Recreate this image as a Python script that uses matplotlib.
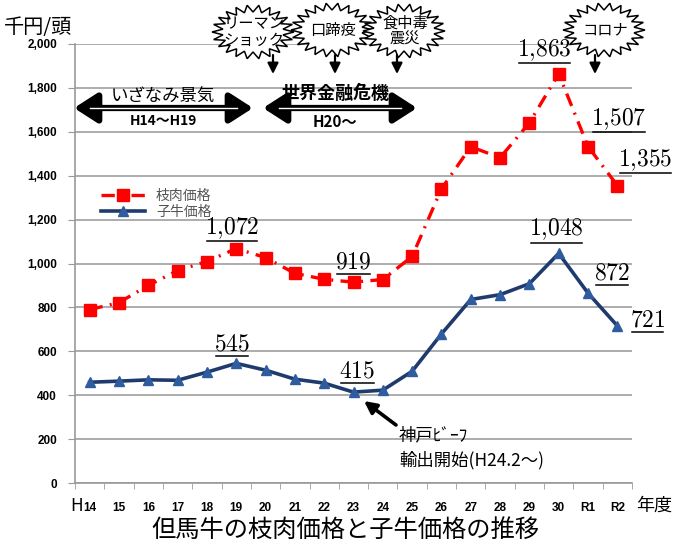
import numpy as np
import matplotlib
matplotlib.use('Agg')
import matplotlib.pyplot as plt
from matplotlib.patches import Polygon
from matplotlib.lines import Line2D
from matplotlib.transforms import IdentityTransform

plt.rcParams['font.family'] = ['Noto Sans CJK JP', 'DejaVu Sans']
plt.rcParams['mathtext.fontset'] = 'cm'

# ---- data ----
years = ['14', '15', '16', '17', '18', '19', '20', '21', '22', '23', '24',
         '25', '26', '27', '28', '29', '30', 'R1', 'R2']
carcass = [790, 822, 900, 968, 1009, 1068, 1027, 955, 928, 915, 927,
           1032, 1340, 1532, 1482, 1641, 1864, 1533, 1355]
calf = [459, 464, 470, 468, 505, 545, 514, 473, 455, 414, 423,
        509, 679, 836, 858, 908, 1046, 865, 716]
yticks = [0, 200, 400, 600, 800, 1000, 1200, 1400, 1600, 1800, 2000]
ytick_labels = ['0', '200', '400', '600', '800', '1,000', '1,200', '1,400',
                '1,600', '1,800', '2,000']
carcass_labels = {5: '1,072', 9: '919', 16: '1,863', 17: '1,507', 18: '1,355'}
calf_labels = {5: '545', 9: '415', 16: '1,048', 17: '872', 18: '721'}
series_names = ['枝肉価格', '子牛価格']

W, H = 676, 547
fig = plt.figure(figsize=(W / 100, H / 100), dpi=100)
ax = fig.add_axes([75 / W, 1 - 483 / H, (632 - 75) / W, (483 - 44) / H])

x = np.arange(len(years))
red = '#FF0000'
navy = '#1F3B6E'
ax.plot(x, carcass, color=red, lw=2.4, ls=(0, (4, 2.2, 0.6, 2.2)),
        marker='s', ms=8.5, mfc=red, mec=red, label=series_names[0], zorder=3)
ax.plot(x, calf, color=navy, lw=2.6, marker='^', ms=7.5, mfc='#2E5C9E',
        mec='#2E5C9E', label=series_names[1], zorder=3)

ax.set_xlim(-0.5, len(years) - 0.5)
ax.set_ylim(0, 2000)
ax.set_yticks(yticks)
ax.set_yticklabels(ytick_labels, fontfamily='Liberation Sans', fontweight='bold',
                   fontsize=8.5)
ax.set_xticks(x)
ax.set_xticklabels(years, fontfamily='Liberation Sans', fontweight='bold',
                   fontsize=8.5)
ax.set_xticks(np.arange(-0.5, len(years), 1), minor=True)
ax.tick_params(axis='x', which='major', length=0, pad=14)
ax.tick_params(axis='x', which='minor', length=4, color='#999999')
ax.tick_params(axis='y', length=5, color='#999999', pad=8)
ax.grid(axis='y', color='#A6A6A6', lw=1.3)
ax.set_axisbelow(True)
for s in ['top', 'right']:
    ax.spines[s].set_visible(False)
for s in ['left', 'bottom']:
    ax.spines[s].set_color('#999999')
    ax.spines[s].set_linewidth(1.2)

leg = ax.legend(loc='upper left', bbox_to_anchor=(88 / W, 1 - 176 / H),
                bbox_transform=fig.transFigure, frameon=False, fontsize=10,
                handlelength=3.2, labelspacing=0.15, handletextpad=0.8,
                labelcolor='#555555')

# value labels
def vlabels(vals, labs, offs):
    arts = []
    for i, t in labs.items():
        dx, dy = offs[i]
        a = ax.annotate('$' + t.replace(',', '{,}') + '$', xy=(x[i], vals[i]),
                        xytext=(dx, dy), textcoords='offset pixels',
                        ha='center', va='bottom', fontsize=17, zorder=5)
        arts.append(a)
    return arts

red_offs = {5: (-4, 8), 9: (0, 9), 16: (-14, 11), 17: (31, 15), 18: (28, 13)}
blue_offs = {5: (-4, 8), 9: (4, 10), 16: (-2, 11), 17: (24, 9), 18: (30, -6)}
labs = vlabels(carcass, carcass_labels, red_offs) + vlabels(calf, calf_labels, blue_offs)

# overlay in pixel coords
ov = fig.add_axes([0, 0, 1, 1], zorder=10)
ov.set_xlim(0, W)
ov.set_ylim(H, 0)
ov.axis('off')
ov.patch.set_alpha(0)

def star(cx, cy, rx, ry, n=22, inner=0.74, z=11):
    ang = np.linspace(0, 2 * np.pi, 2 * n, endpoint=False)
    r = np.where(np.arange(2 * n) % 2 == 0, 1.0, inner)
    pts = np.c_[cx + rx * r * np.cos(ang), cy + ry * r * np.sin(ang)]
    ov.add_patch(Polygon(pts, closed=True, fc='white', ec='black', lw=1.1, zorder=z))

bursts = [((253, 32), 'リーマン\nショック'), ((332, 30), '口蹄疫'),
          ((404, 31), '食中毒\n震災'), ((604, 30), 'コロナ')]
for k, ((cx, cy), t) in enumerate(bursts):
    star(cx, cy, 41, 27, z=11 + 2 * k)
    ov.text(cx + 1, cy, t, ha='center', va='center', fontsize=11,
            linespacing=0.95, zorder=12 + 2 * k)

for xa in [273, 335, 397, 595]:
    ov.annotate('', xy=(xa, 74), xytext=(xa, 55),
                arrowprops=dict(arrowstyle='-|>', color='black', lw=1.6,
                                mutation_scale=16, shrinkA=0, shrinkB=0), zorder=20)

def darrow(x0, x1, y):
    ov.annotate('', xy=(x0, y), xytext=(x1, y),
                arrowprops=dict(arrowstyle='<|-|>,head_length=0.7,head_width=0.45',
                                color='black', lw=4.5, mutation_scale=20,
                                shrinkA=0, shrinkB=0), zorder=20)
    ov.plot([x0 + 16, x1 - 16], [y, y], color='white', lw=1.0, zorder=21)

darrow(74, 253, 108)
darrow(263, 417, 108)
ov.text(163, 97, 'いざなみ景気', ha='center', va='center', fontsize=12.5, zorder=22)
ov.text(163, 121, 'H14〜H19', ha='center', va='center', fontsize=10,
        fontweight='bold', zorder=22)
ov.text(335, 93, '世界金融危機', ha='center', va='center', fontsize=13,
        fontweight='bold', zorder=22)
ov.text(335, 122, 'H20〜', ha='center', va='center', fontsize=11,
        fontweight='bold', zorder=22)

ov.text(4, 27, '千円/頭', ha='left', va='center', fontsize=14.5)
ov.text(77, 506, 'H', ha='center', va='center', fontsize=12.5)
ov.text(636, 506, '年度', ha='left', va='center', fontsize=13)
ov.text(345, 530, '但馬牛の枝肉価格と子牛価格の推移', ha='center', va='center',
        fontsize=17.5)

ov.annotate('', xy=(364, 401), xytext=(396, 425),
            arrowprops=dict(arrowstyle='-|>', color='black', lw=2.6,
                            mutation_scale=18, shrinkA=0, shrinkB=0))
ov.text(399, 435, '神戸ﾋﾞｰﾌ', ha='left', va='center', fontsize=12.5)
ov.text(399, 460, '輸出開始(H24.2〜)', ha='left', va='center', fontsize=12.5)

# underlines for value labels
fig.canvas.draw()
r = fig.canvas.get_renderer()
for a in labs:
    bb = a.get_window_extent(r)
    fig.add_artist(Line2D([bb.x0 + 2, bb.x1 - 2], [bb.y0 - 0.5, bb.y0 - 0.5], color='black',
                          lw=1.1, transform=IdentityTransform(), zorder=30))

fig.savefig('out.png', dpi=100)
